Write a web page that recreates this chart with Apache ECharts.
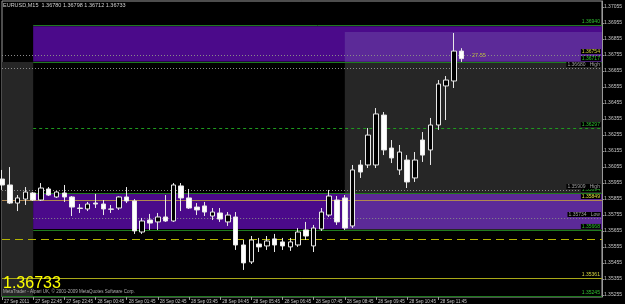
<!DOCTYPE html>
<html>
<head>
<meta charset="utf-8">
<script src="https://cdn.jsdelivr.net/npm/echarts@6/dist/echarts.min.js"></script>
<style>
html, body { margin: 0; padding: 0; background: #000; }
#main { width: 625px; height: 304px; }
</style>
</head>
<body>
<div id="main"></div>
<script>
// EURUSD, M15 - bars from 27 Sep 21:45 to 28 Sep 12:30
var opens = [1.35980,1.35943,1.35830,1.35855,1.35893,1.35849,1.35918,1.35868,1.35893,1.35868,
    1.35799,1.35793,1.35830,1.35824,1.35793,1.35799,1.35868,1.35843,1.35649,1.35724,
    1.35712,1.35743,1.35718,1.35937,1.35862,1.35805,1.35812,1.35749,1.35768,1.35712,
    1.35743,1.35568,1.35462,1.35574,1.35562,1.35606,1.35587,1.35556,1.35568,1.35662,
    1.35562,1.35668,1.35755,1.35849,1.35862,1.35687,1.36068,1.36068,1.36068,1.36380,
    1.36174,1.36037,1.36099,1.35987,1.36224,1.36162,1.36318,1.36562,1.36593,1.36780];
var closes = [1.35943,1.35830,1.35862,1.35899,1.35849,1.35924,1.35880,1.35899,1.35868,1.35805,
    1.35796,1.35824,1.35824,1.35793,1.35791,1.35868,1.35843,1.35656,1.35718,1.35705,
    1.35743,1.35718,1.35943,1.35862,1.35799,1.35787,1.35774,1.35774,1.35730,1.35755,
    1.35568,1.35456,1.35599,1.35556,1.35593,1.35568,1.35562,1.35587,1.35649,1.35624,
    1.35674,1.35774,1.35874,1.35712,1.35674,1.36037,1.36024,1.36255,1.36387,1.36162,
    1.36112,1.36149,1.35962,1.36099,1.36130,1.36318,1.36574,1.36599,1.36780,1.36733];
var lows = [1.35912,1.35824,1.35780,1.35818,1.35843,1.35843,1.35874,1.35862,1.35837,1.35749,
    1.35768,1.35780,1.35799,1.35755,1.35768,1.35787,1.35830,1.35637,1.35637,1.35662,
    1.35662,1.35712,1.35712,1.35780,1.35793,1.35755,1.35749,1.35724,1.35712,1.35687,
    1.35537,1.35412,1.35449,1.35524,1.35537,1.35524,1.35537,1.35531,1.35556,1.35599,
    1.35524,1.35656,1.35743,1.35693,1.35662,1.35674,1.35987,1.36049,1.36049,1.36130,
    1.36080,1.36006,1.35924,1.35962,1.36087,1.36068,1.36287,1.36349,1.36549,1.36712];
var highs = [1.36037,1.36055,1.35880,1.35930,1.35899,1.35955,1.35930,1.35905,1.35943,1.35874,
    1.35824,1.35837,1.35887,1.35849,1.35818,1.35872,1.35930,1.35855,1.35737,1.35762,
    1.35768,1.35880,1.35955,1.35955,1.35918,1.35830,1.35837,1.35799,1.35799,1.35774,
    1.35774,1.35599,1.35624,1.35612,1.35624,1.35637,1.35612,1.35612,1.35674,1.35712,
    1.35693,1.35799,1.35912,1.35874,1.35880,1.36068,1.36099,1.36299,1.36424,1.36399,
    1.36224,1.36193,1.36130,1.36149,1.36274,1.36362,1.36599,1.36624,1.36893,1.36798];

var priceTicks = [1.35255,1.35355,1.35455,1.35555,1.35655,1.35755,1.35855,1.35955,1.36055,1.36155,
    1.36255,1.36355,1.36455,1.36555,1.36655,1.36755,1.36855,1.36955,1.37055];
var firstDateLabel = '27 Sep 2011';

// boxes (price bounds)
var upperBand = [1.36935, 1.36715];
var lowerBand = [1.35887, 1.35668];
var grayRight = [1.36899, 1.35662];
var grayLeft = [1.36712, 1.35243];

// level lines: price, label
var greenLevels = [1.36943, 1.36712, 1.35893, 1.35662];
var greenLabels = ['1.36940', '1.36717', '1.35894', '1.35668'];
var dotLevels = [1.36755, 1.36674, 1.35912, 1.35737];
var dotLabels = ['1.36754', '1.36680   High', '1.35909   High', '1.35734   Low'];
var pivotLevel = 1.36299, pivotLabel = '1.36297';
var tanLevel = 1.35849, tanLabel = '1.35849';
var yellowLevel = 1.35361, yellowLabel = '1.35361';
var bottomLevel = 1.35249, bottomLabel = '1.35245';
var dashLevel = 1.35606, dashLabel = '1.35605';
var bidPrice = 1.36733;

var N = 78; // bar slots incl. empty space on the right
function pad(n) { return n < 10 ? '0' + n : '' + n; }
var categories = [];
for (var i = 0; i < N; i++) {
    var m = 21 * 60 + 45 + 15 * i;
    var d = 27 + Math.floor(m / 1440);
    m = m % 1440;
    categories.push(d + ' Sep ' + pad(Math.floor(m / 60)) + ':' + pad(m % 60));
}
var candles = opens.map(function (o, i) { return [o, closes[i], lows[i], highs[i]]; });

var FONT = 'Liberation Sans';
var C0 = categories[0], C4 = categories[4], C44 = categories[44], CE = categories[N - 1];

function box(x0, x1, p) { return [{ xAxis: x0, yAxis: p[0] }, { xAxis: x1, yAxis: p[1] }]; }
function hline(x0, p, text, color, type, labelColor) {
    return [{
        xAxis: x0, yAxis: p,
        lineStyle: { color: color, type: type, width: 1, opacity: 1 },
        label: { show: !!text, formatter: text, position: 'insideEndTop', distance: 1,
                 color: labelColor || color, fontSize: 5, fontFamily: FONT,
                 backgroundColor: '#000', padding: [0, 1] }
    }, { xAxis: CE, yAxis: p }];
}

var lines = [
    hline(C4, greenLevels[0], greenLabels[0], '#1f7a1f', 'solid', '#30c030'),
    hline(C4, greenLevels[1], greenLabels[1], '#1f7a1f', 'solid', '#30c030'),
    hline(C4, greenLevels[2], greenLabels[2], '#1f7a1f', 'solid', '#30c030'),
    hline(C4, greenLevels[3], greenLabels[3], '#1f7a1f', 'solid', '#30c030'),
    hline(C0, dotLevels[0], dotLabels[0], '#8a8a8a', [1, 2], '#d8d840'),
    hline(C0, dotLevels[1], dotLabels[1], '#8a8a8a', [1, 2], '#a0a0a0'),
    hline(C0, dotLevels[2], dotLabels[2], '#8a8a8a', [1, 2], '#a0a0a0'),
    hline(C4, dotLevels[3], dotLabels[3], '#8a8a8a', [1, 2], '#a0a0a0'),
    hline(C4, pivotLevel, pivotLabel, '#1f9a1f', [3, 3], '#30c030'),
    hline(C0, tanLevel, tanLabel, '#b08850', 'solid', '#e0e040'),
    hline(C0, yellowLevel, yellowLabel, '#a8a818', 'solid', '#d8d840'),
    hline(C0, bottomLevel, bottomLabel, '#1f7a1f', 'solid', '#30c030'),
    hline(C0, dashLevel, '', '#b4b400', [8, 5], '#d8d840')
];

var chart = echarts.init(document.getElementById('main'));
var option = {
    backgroundColor: '#000',
    animation: false,
    grid: { left: 2, right: 18, top: 1, bottom: 7, show: true, borderColor: '#9a9a9a', borderWidth: 1 },
    xAxis: {
        type: 'category', data: categories, boundaryGap: false,
        axisLine: { show: false },
        axisTick: { show: true, length: 3, interval: function (i) { return i % 4 === 0 && i < opens.length; },
                    lineStyle: { color: '#9a9a9a' } },
        axisLabel: { interval: function (i) { return i % 4 === 0 && i < opens.length; },
                     formatter: function (v, i) { return i === 0 ? firstDateLabel : v; },
                     color: '#c8c8c8', fontSize: 4.5, fontFamily: FONT, align: 'left', margin: 2, padding: [0, 0, 0, 2] },
        splitLine: { show: false }
    },
    yAxis: {
        type: 'value', position: 'right', min: 1.352428, max: 1.37093, scale: true,
        splitLine: { show: false },
        axisLine: { show: true, lineStyle: { color: '#9a9a9a' } },
        axisTick: { show: true, length: 2, customValues: priceTicks, lineStyle: { color: '#9a9a9a' } },
        axisLabel: { customValues: priceTicks, formatter: function (v) { return v.toFixed(5); },
                     color: '#c8c8c8', fontSize: 5, fontFamily: FONT, margin: 2 }
    },
    series: [
        { type: 'line', data: [], z: 1, silent: true,
          markArea: { silent: true, itemStyle: { color: '#262626' },
                      data: [box(C0, C4, grayLeft), box(C44, CE, grayRight)] } },
        { type: 'line', data: [], z: 2, silent: true,
          markArea: { silent: true, itemStyle: { color: '#4b0a8a' },
                      data: [box(C4, CE, upperBand), box(C4, CE, lowerBand)] } },
        { type: 'line', data: [], z: 3, silent: true,
          markArea: { silent: true, itemStyle: { color: '#5c2a98' },
                      data: [box(C44, CE, [grayRight[0], upperBand[1]]), box(C44, CE, lowerBand)] } },
        { type: 'line', data: [], z: 4, silent: true,
          markLine: { silent: true, symbol: ['none', 'none'], data: lines } },
        { type: 'line', data: [], z: 6, silent: true,
          markLine: { silent: true, symbol: ['none', 'none'],
                      lineStyle: { opacity: 0 },
                      data: [
                          { yAxis: bidPrice, label: { show: true, position: 'end', distance: 1, formatter: bidPrice.toFixed(5),
                              color: '#000', backgroundColor: '#ffffff', fontSize: 5, fontFamily: FONT, padding: [1, 2] } },
                          { yAxis: dashLevel, label: { show: true, position: 'end', distance: 1, formatter: dashLabel,
                              color: '#000', backgroundColor: '#ffff00', fontSize: 5, fontFamily: FONT, padding: [1, 2] } }
                      ] } },
        { type: 'candlestick', data: candles, z: 10, barWidth: 5, clip: true,
          itemStyle: { color: '#000', color0: '#ffffff', borderColor: '#e8e8e8', borderColor0: '#e8e8e8', borderWidth: 1 } }
    ],
    graphic: [
        { type: 'text', z: 100, left: 3, top: 2, style: { text: 'EURUSD,M15  1.36780 1.36798 1.36712 1.36733',
          fill: '#d0d0d0', fontSize: 5.5, fontFamily: FONT } },
        { type: 'text', z: 100, left: 472, top: 52, style: { text: '27.55', fill: '#b8b840', fontSize: 5.5, fontFamily: FONT } },
        { type: 'text', z: 100, left: 3, top: 276, style: { text: '1.36733', fill: '#ffff00', fontSize: 16, fontFamily: FONT } },
        { type: 'text', z: 100, left: 3, top: 289, style: { text: 'MetaTrader - Alpari UK, \u00a9 2001-2009 MetaQuotes Software Corp.',
          fill: '#b0b0b0', fontSize: 4.5, fontFamily: FONT } }
    ]
};
chart.setOption(option);
</script>
</body>
</html>
